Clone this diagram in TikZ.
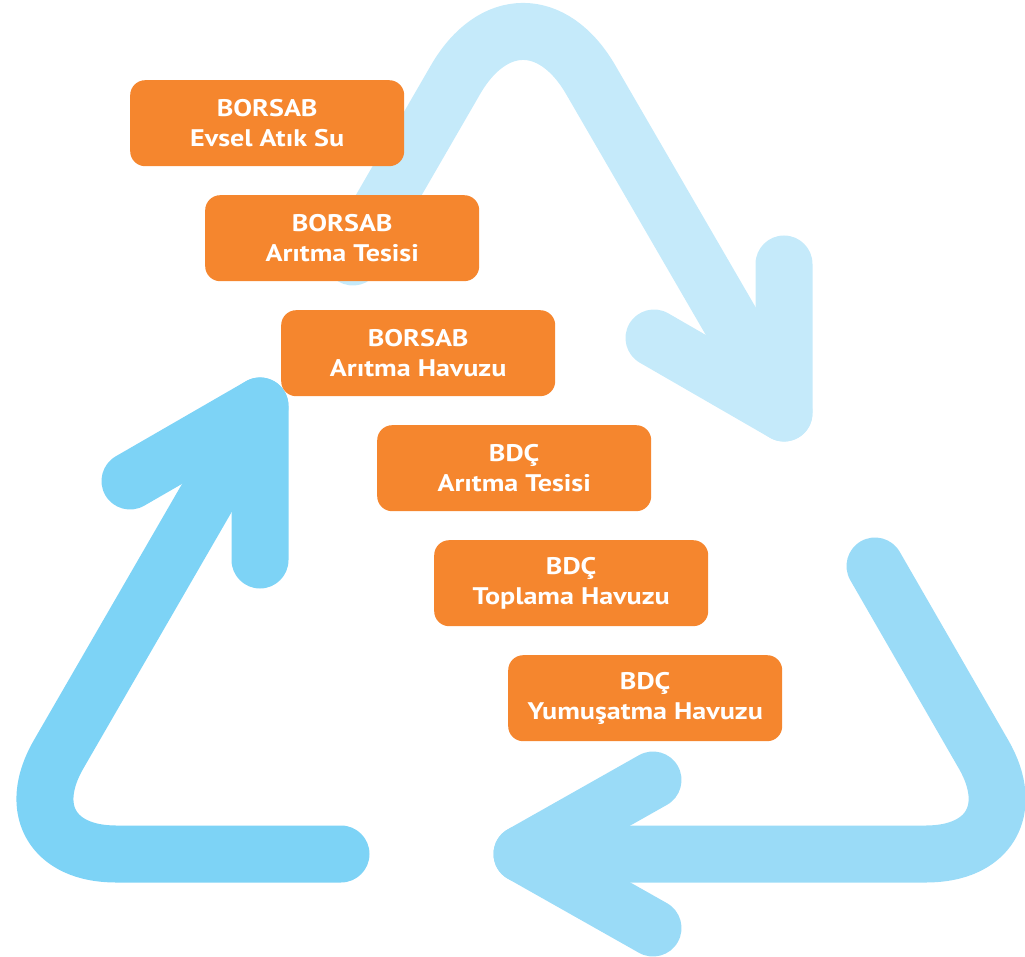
\documentclass[tikz,border=0pt]{standalone}
\usepackage{fontspec}
\setmainfont{PT Sans}[FakeStretch=1.17]
\definecolor{orng}{HTML}{F5862E}
\definecolor{arrA}{HTML}{7DD3F6}
\definecolor{arrB}{HTML}{C5EAFA}
\definecolor{arrC}{HTML}{9ADBF7}
\begin{document}
\begin{tikzpicture}[x=1pt,y=-1pt,
  band/.style={line width=57pt,line cap=round,line join=round},
  box/.style={anchor=north west,fill=orng,rounded corners=15pt,minimum width=274pt,minimum height=86pt,
    text=white,align=center,inner sep=0pt,font=\fontsize{24}{30}\selectfont\bfseries}]
\useasboundingbox (0,0) rectangle (1025,957);
% arrow 2 (top, lightest)
\draw[band,arrB,rounded corners=135pt] (353,257) -- (523,-37) -- (784,413);
\draw[band,arrB] (784,264) -- (784,413) -- (654,338);
% arrow 1 (left)
\draw[band,arrA,rounded corners=115pt] (341,854) -- (1,854) -- (260,406);
\draw[band,arrA] (130,481) -- (260,406) -- (260,560);
% arrow 3 (bottom right)
\draw[band,arrC,rounded corners=115pt] (875,566) -- (1041,854) -- (522,854);
\draw[band,arrC] (653,780) -- (522,854) -- (653,928);
% boxes
\node[box] (b1) at (130,80) {BORSAB\\Evsel Atık Su};
\node[box] (b2) at (205,195) {BORSAB\\Arıtma Tesisi};
\node[box] (b3) at (281,310) {BORSAB\\Arıtma Havuzu};
\node[box] (b4) at (377,425) {BDÇ\\Arıtma Tesisi};
\node[box] (b5) at (434,540) {BDÇ\\Toplama Havuzu};
\node[box] (b6) at (508,655) {BDÇ\\Yumuşatma Havuzu};
\end{tikzpicture}
\end{document}
